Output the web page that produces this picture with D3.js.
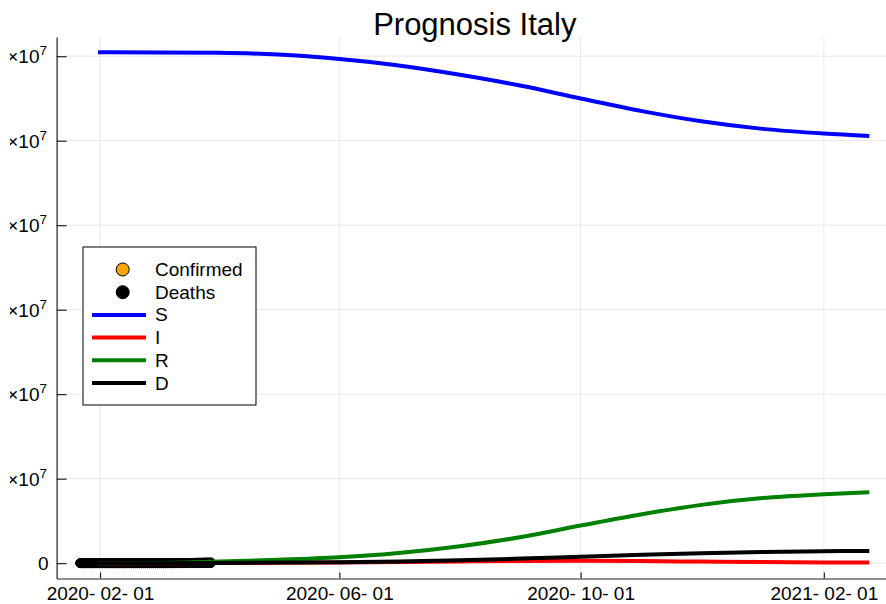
<!DOCTYPE html>
<html>
<head>
<meta charset="utf-8">
<script src="https://cdn.jsdelivr.net/npm/d3@7"></script>
<style>
  body { margin: 0; background: #fff; }
  text { font-family: "Liberation Sans", Arial, sans-serif; }
</style>
</head>
<body>
<div id="chart"></div>
<script>
// observed data, daily from 2020-01-22
var obsStart = "2020-01-22";
var confirmed = [0,0,0,0,0,0,0,0,0, 2,2,2,2,2,2,2, 3,3,3,3,3,3,3,3,3,3,3,3,3,3,
  20,62,155,229,322,453,655,888,1128,
  1694,2036,2502,3089,3858,4636,5883,7375,9172,10149,12462,12462,17660,21157,24747,27980,
  31506,35713,41035,47021,53578,59138,63927,69176,74386,80589,86498,92472];
var deaths = [0,0,0,0,0,0,0,0,0,0,0,0,0,0,0,0,0,0,0,0,0,0,0,0,0,0,0,0,0,0,
  1,2,3,7,10,12,17,21,29,
  34,52,79,107,148,197,233,366,463,631,827,827,1266,1441,1809,2158,2503,2978,3405,4032,
  4825,5476,6077,6820,7503,8215,9134,10023];

// model output (units of 1e7)
var modelDates = ["2020-01-31","2020-03-01","2020-04-01","2020-05-01","2020-06-01","2020-07-01",
  "2020-08-01","2020-09-01","2020-10-01","2020-11-01","2020-12-01","2021-01-01","2021-02-01","2021-02-24"];
var S = [6.046,6.045,6.040,6.020,5.967,5.890,5.780,5.650,5.500,5.350,5.230,5.140,5.085,5.057];
var I = [0.000,0.0005,0.002,0.004,0.008,0.013,0.020,0.026,0.028,0.025,0.019,0.013,0.009,0.007];
var R = [0.000,0.001,0.020,0.040,0.070,0.120,0.200,0.310,0.445,0.580,0.690,0.770,0.815,0.840];
var D = [0.000,0.0002,0.003,0.007,0.012,0.020,0.035,0.054,0.077,0.100,0.118,0.132,0.141,0.145];

var xTicks = ["2020-02-01","2020-06-01","2020-10-01","2021-02-01"];
var yTicks = [0,1,2,3,4,5,6];

var width = 886, height = 604;
var plot = {left: 56.6, right: 893, top: 37, bottom: 578.5};

var parse = d3.timeParse("%Y-%m-%d");
var fmt = d3.timeFormat("%Y- %m- %d");

var obsDates = d3.range(confirmed.length).map(function(i) { return d3.timeDay.offset(parse(obsStart), i); });
var mDates = modelDates.map(parse);

var xMin = obsDates[0], xMax = mDates[mDates.length - 1];
var pad = (xMax - xMin) * 0.03;
var x = d3.scaleTime()
    .domain([new Date(+xMin - pad), new Date(+xMax + pad)])
    .range([plot.left, plot.right]);

var yMax = d3.max(S);
var y = d3.scaleLinear()
    .domain([-yMax * 0.03, yMax * 1.03])
    .range([plot.bottom, plot.top]);

var svg = d3.select("#chart").append("svg")
    .attr("width", width)
    .attr("height", height);

// grid
svg.append("g").selectAll("line")
    .data(xTicks).enter().append("line")
    .attr("x1", function(d) { return x(parse(d)); })
    .attr("x2", function(d) { return x(parse(d)); })
    .attr("y1", plot.top).attr("y2", plot.bottom)
    .attr("stroke", "#e8e8e8");
svg.append("g").selectAll("line")
    .data(yTicks).enter().append("line")
    .attr("x1", plot.left).attr("x2", plot.right)
    .attr("y1", function(d) { return y(d); })
    .attr("y2", function(d) { return y(d); })
    .attr("stroke", "#e8e8e8");

// axes
var xAxis = svg.append("g")
    .attr("transform", "translate(0," + plot.bottom + ")")
    .call(d3.axisBottom(x).tickValues(xTicks.map(parse)).tickFormat(fmt).tickSizeInner(-6).tickSizeOuter(0).tickPadding(8));
var yAxis = svg.append("g")
    .attr("transform", "translate(" + plot.left + ",0)")
    .call(d3.axisLeft(y).tickValues(yTicks).tickFormat("").tickSizeInner(-10).tickSizeOuter(0));
[xAxis, yAxis].forEach(function(a) {
  a.select(".domain").attr("stroke", "#222").attr("stroke-width", 1.2);
  a.selectAll(".tick line").attr("stroke", "#222").attr("stroke-width", 1.2);
});
xAxis.selectAll(".tick text")
    .attr("font-size", 19).attr("fill", "#000")
    .style("font-family", "'Liberation Sans', Arial, sans-serif");

// y labels (cut at the left edge as in the original)
svg.append("clipPath").attr("id", "ylabclip")
  .append("rect").attr("x", 10).attr("y", 0).attr("width", 60).attr("height", height);
var ylab = svg.append("g").attr("clip-path", "url(#ylabclip)")
  .selectAll("text").data(yTicks).enter().append("text")
    .attr("x", 47)
    .attr("y", function(d) { return y(d) + 7; })
    .attr("text-anchor", "end")
    .attr("font-size", 19);
ylab.each(function(d) {
  var t = d3.select(this);
  if (d === 0) { t.attr("x", 48.5).text("0"); return; }
  t.append("tspan").text(d + "×10");
  t.append("tspan").attr("dy", -8).attr("font-size", 13.5).text("7");
});

// observed points
svg.append("clipPath").attr("id", "plotclip")
  .append("rect").attr("x", plot.left).attr("y", plot.top)
  .attr("width", plot.right - plot.left).attr("height", plot.bottom - plot.top);
var g = svg.append("g").attr("clip-path", "url(#plotclip)");

g.selectAll(".conf").data(confirmed).enter().append("circle")
    .attr("cx", function(d, i) { return x(obsDates[i]); })
    .attr("cy", function(d) { return y(d / 1e7); })
    .attr("r", 4.5)
    .attr("fill", "#ffa500").attr("stroke", "#000").attr("stroke-width", 1);
g.selectAll(".death").data(deaths).enter().append("circle")
    .attr("cx", function(d, i) { return x(obsDates[i]); })
    .attr("cy", function(d) { return y(d / 1e7); })
    .attr("r", 4.5)
    .attr("fill", "#000").attr("stroke", "#000").attr("stroke-width", 1);

// model curves
var series = [
  {name: "S", values: S, color: "#0000ff"},
  {name: "I", values: I, color: "#ff0000"},
  {name: "R", values: R, color: "#008000"},
  {name: "D", values: D, color: "#000000"}
];
var line = d3.line()
    .x(function(d, i) { return x(mDates[i]); })
    .y(function(d) { return y(d); })
    .curve(d3.curveMonotoneX);
g.selectAll(".model").data(series).enter().append("path")
    .attr("d", function(d) { return line(d.values); })
    .attr("fill", "none")
    .attr("stroke", function(d) { return d.color; })
    .attr("stroke-width", 4);

// title
svg.append("text")
    .attr("x", (plot.left + plot.right) / 2)
    .attr("y", 35)
    .attr("text-anchor", "middle")
    .attr("font-size", 31)
    .text("Prognosis Italy");

// legend
var leg = svg.append("g");
leg.append("rect")
    .attr("x", 83).attr("y", 247).attr("width", 173).attr("height", 158)
    .attr("fill", "#fff").attr("stroke", "#000").attr("stroke-width", 1);
var legItems = [
  {name: "Confirmed", type: "dot", color: "#ffa500"},
  {name: "Deaths", type: "dot", color: "#000"},
  {name: "S", type: "line", color: "#0000ff"},
  {name: "I", type: "line", color: "#ff0000"},
  {name: "R", type: "line", color: "#008000"},
  {name: "D", type: "line", color: "#000000"}
];
var li = leg.selectAll(".li").data(legItems).enter().append("g")
    .attr("transform", function(d, i) { return "translate(0," + (269.5 + i * 22.7) + ")"; });
li.filter(function(d) { return d.type === "dot"; }).append("circle")
    .attr("cx", 122.7).attr("cy", 0).attr("r", 6.5)
    .attr("fill", function(d) { return d.color; })
    .attr("stroke", "#000").attr("stroke-width", 1);
li.filter(function(d) { return d.type === "line"; }).append("line")
    .attr("x1", 92).attr("x2", 146).attr("y1", 0).attr("y2", 0)
    .attr("stroke", function(d) { return d.color; })
    .attr("stroke-width", 4);
li.append("text")
    .attr("x", 155).attr("y", 6.5)
    .attr("font-size", 19)
    .text(function(d) { return d.name; });
</script>
</body>
</html>
